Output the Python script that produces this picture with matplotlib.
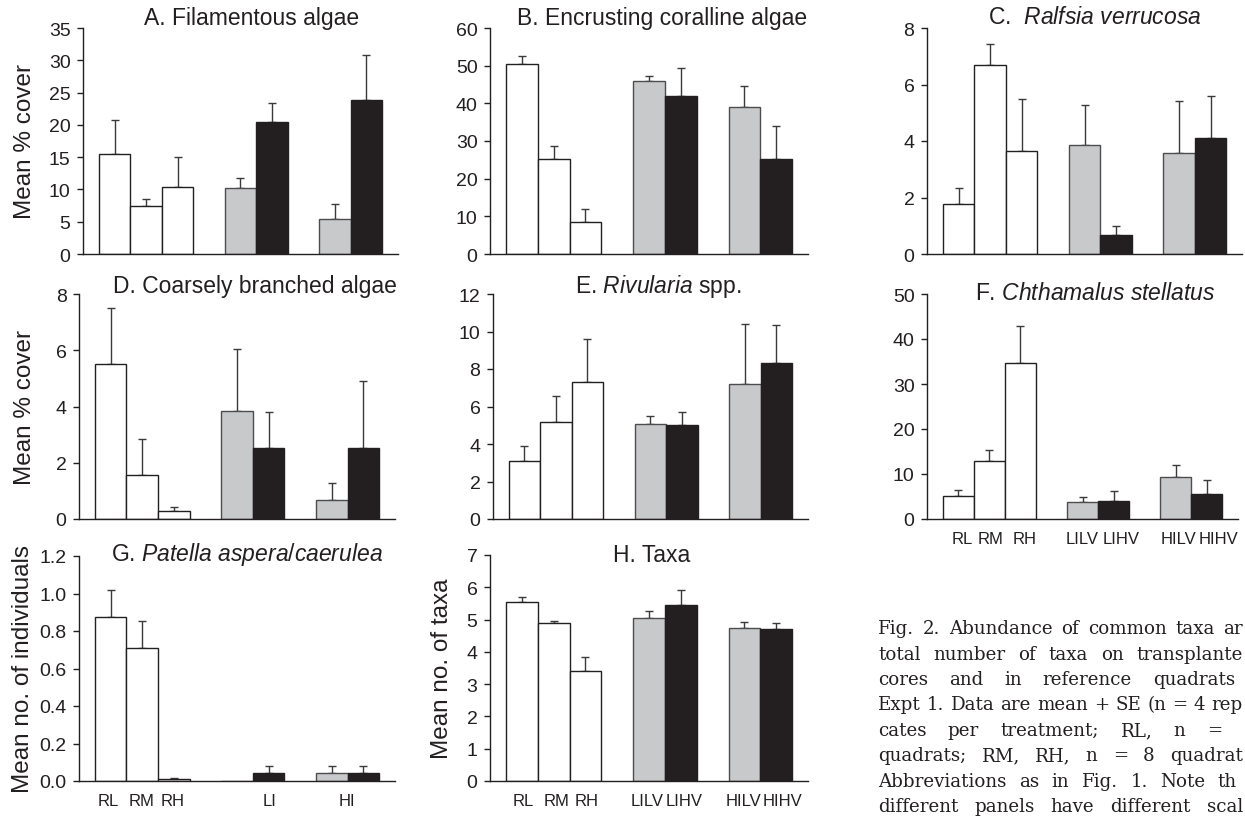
import matplotlib
matplotlib.use('Agg')
import matplotlib.pyplot as plt
import numpy as np

plt.rcParams['font.family'] = ['Liberation Sans', 'DejaVu Sans']
plt.rcParams['mathtext.fontset'] = 'custom'
plt.rcParams['mathtext.rm'] = 'Liberation Sans'
plt.rcParams['mathtext.it'] = 'Liberation Sans:italic'

# treatments (reference RL/RM/RH, then LI and HI transplants at LV / HV)
treatments = ['RL', 'RM', 'RH', 'LILV', 'LIHV', 'HILV', 'HIHV']
g_labels = ['RL', 'RM', 'RH', 'LI', 'HI']

# means and SE
filamentous = [15.5, 7.4, 10.3, 10.2, 20.4, 5.4, 23.8]
filamentous_se = [5.3, 1.1, 4.7, 1.5, 3.0, 2.4, 7.0]
coralline = [50.4, 25.1, 8.4, 45.9, 41.9, 39.0, 25.1]
coralline_se = [2.1, 3.5, 3.6, 1.3, 7.5, 5.5, 8.8]
ralfsia = [1.77, 6.68, 3.65, 3.87, 0.67, 3.57, 4.11]
ralfsia_se = [0.57, 0.77, 1.82, 1.39, 0.33, 1.83, 1.47]
coarse = [5.5, 1.58, 0.28, 3.83, 2.51, 0.68, 2.54]
coarse_se = [2.01, 1.26, 0.15, 2.21, 1.31, 0.59, 2.38]
rivularia = [3.11, 5.19, 7.32, 5.07, 5.01, 7.2, 8.3]
rivularia_se = [0.8, 1.37, 2.3, 0.44, 0.71, 3.18, 2.05]
chthamalus = [5.2, 13.0, 34.6, 3.85, 3.9, 9.3, 5.5]
chthamalus_se = [1.3, 2.4, 8.4, 1.15, 2.4, 2.8, 3.2]
patella = [0.875, 0.711, 0.012, 0.0, 0.041, 0.041, 0.041]
patella_se = [0.144, 0.142, 0.006, 0.0, 0.039, 0.039, 0.039]
taxa = [5.53, 4.90, 3.41, 5.04, 5.45, 4.75, 4.71]
taxa_se = [0.16, 0.05, 0.42, 0.23, 0.47, 0.19, 0.19]

# caption as far as it is visible (the source crops it at the right edge)
caption = [
    "Fig. 2. Abundance of common taxa ar",
    "total number of taxa on transplante",
    "cores and in reference quadrats",
    "Expt 1. Data are mean + SE (n = 4 rep",
    "cates per treatment; RL, n =",
    "quadrats; RM, RH, n = 8 quadrat",
    "Abbreviations as in Fig. 1. Note th",
    "different panels have different scal",
]
caption_right = [1243, 1243, 1235, 1243, 1222, 1243, 1237, 1243]

W, H = 1245, 820
ink = '#231f20'
fill = ['white'] * 3 + ['#c8c9cb', ink, '#c8c9cb', ink]
edge = [ink] * 3 + ['#4d4d4f', ink, '#4d4d4f', ink]
xpos = np.array([1, 2, 3, 5, 6, 8, 9])

fig = plt.figure(figsize=(W / 100, H / 100), dpi=100)


def panel(box, vals, se, ymax, step, title, tpos, ylabel=None, ylx=25,
          xticks=None, xlabels=None, fmt='{:.0f}'):
    x0, x1, yt, yb = box
    ax = fig.add_axes([x0 / W, 1 - yb / H, (x1 - x0) / W, (yb - yt) / H])
    ax.bar(xpos, vals, width=1.0, color=fill, edgecolor=edge, linewidth=1.0, zorder=2)
    vals = np.array(vals)
    se = np.array(se)
    m = se > 0
    ax.errorbar(xpos[m], vals[m], yerr=[np.zeros(m.sum()), se[m]], fmt='none',
                ecolor='#3a3a3a', elinewidth=1.0, capsize=3, capthick=1.0, zorder=1)
    ax.set_xlim(0, 10)
    ax.set_ylim(0, ymax)
    ticks = np.arange(0, ymax + step / 2, step)
    ax.set_yticks(ticks)
    ax.set_yticklabels([fmt.format(t) for t in ticks], fontsize=14, color=ink)
    for s in ['top', 'right']:
        ax.spines[s].set_visible(False)
    for s in ['left', 'bottom']:
        ax.spines[s].set_color(ink)
        ax.spines[s].set_linewidth(1.0)
    ax.tick_params(axis='y', direction='out', length=4, width=1, color=ink, pad=5)
    if xticks is None:
        ax.set_xticks([])
    else:
        ax.set_xticks(xticks)
        ax.set_xticklabels(xlabels, fontsize=12, color=ink)
        ax.tick_params(axis='x', length=0, pad=9)
    fig.text(tpos[0] / W, 1 - tpos[1] / H, title, fontsize=16.5, color=ink,
             ha='center', va='center')
    if ylabel:
        fig.text(ylx / W, 1 - (yt + yb) / 2 / H, ylabel, fontsize=17.5, color=ink,
                 rotation=90, ha='center', va='center')
    return ax


panel((83, 398, 29, 255), filamentous, filamentous_se, 35, 5,
      'A. Filamentous algae', (252, 18), 'Mean % cover')
panel((490, 808, 29, 255), coralline, coralline_se, 60, 10,
      'B. Encrusting coralline algae', (662, 18))
panel((927, 1242, 29, 255), ralfsia, ralfsia_se, 8, 2,
      r'C.  $\mathit{Ralfsia\ verrucosa}$', (1095, 18))
panel((79, 395, 295, 520), coarse, coarse_se, 8, 2,
      'D. Coarsely branched algae', (255, 287), 'Mean % cover')
panel((493, 808, 295, 520), rivularia, rivularia_se, 12, 2,
      r'E. $\mathit{Rivularia}$ spp.', (658, 287))
panel((927, 1238, 295, 520), chthamalus, chthamalus_se, 50, 10,
      r'F. $\mathit{Chthamalus\ stellatus}$', (1095, 293),
      xticks=[1.13, 2.03, 3.15, 4.98, 6.24, 8.1, 9.36], xlabels=treatments)
panel((79, 395, 557, 782), patella, patella_se, 1.2, 0.2,
      r'G. $\mathit{Patella\ aspera/caerulea}$', (247, 555), 'Mean no. of individuals',
      ylx=23, xticks=[0.92, 1.99, 2.97, 6.04, 8.48], xlabels=g_labels, fmt='{:.1f}')
panel((490, 808, 556, 782), taxa, taxa_se, 7, 1,
      'H. Taxa', (652, 555), 'Mean no. of taxa', ylx=442,
      xticks=[1.04, 2.08, 3.05, 4.94, 6.1, 7.96, 9.2], xlabels=treatments)

# justified caption: size the serif so the tightest line fits its span
renderer = fig.canvas.get_renderer()
cx0 = 878
probe = fig.text(0, 0, caption[3], fontsize=10, family='DejaVu Serif')
fs = 10 * (caption_right[3] - cx0 - 4) / probe.get_window_extent(renderer).width
probe.remove()
for i, line in enumerate(caption):
    ypix = 629 + i * 25.5
    words = line.split(' ')
    texts = [fig.text(0, 1 - ypix / H, w, fontsize=fs, family='DejaVu Serif',
                      color=ink, va='center', ha='left') for w in words]
    widths = [t.get_window_extent(renderer).width for t in texts]
    gap = (caption_right[i] - cx0 - sum(widths)) / (len(words) - 1)
    x = cx0
    for t, w in zip(texts, widths):
        t.set_x(x / W)
        x += w + gap

fig.savefig('out.png', dpi=100)
